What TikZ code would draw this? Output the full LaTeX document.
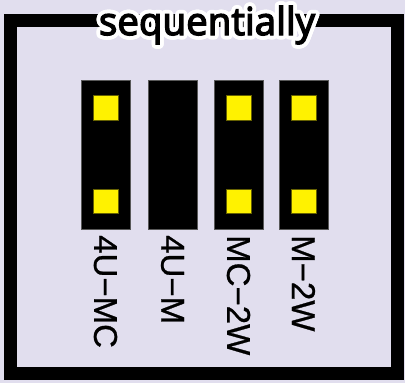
\documentclass[tikz,border=0pt]{standalone}
\usepackage{fontspec}
\usetikzlibrary{calc}
\setmainfont{Open Sans}
\newfontfamily\ttlfont[FakeBold=3.5]{Open Sans}
\newfontfamily\lblfont[FakeBold=0.8]{Liberation Sans}
\definecolor{bgc}{HTML}{E1DEEE}
\definecolor{pinc}{HTML}{FFF200}
\tikzset{
  hdr/.style={fill=black, draw=black!65, line width=0.6pt},
  pinsq/.style={fill=pinc, draw=black!60!pinc, line width=0.6pt},
  lbl/.style={font=\lblfont\fontsize{33}{33}\selectfont, rotate=-90, anchor=west, inner sep=0pt},
  ttl/.style={font=\ttlfont\fontsize{38.5}{38.5}\selectfont, inner sep=0pt, anchor=base}
}
\begin{document}
\begin{tikzpicture}[x=1pt,y=-1pt]
\fill[bgc] (0,0) rectangle (405,383);
\useasboundingbox (0,0) rectangle (405,383);
\draw[line width=13pt] (10.5,20.5) rectangle (397.5,373);
% title halo
\foreach \a in {0,15,...,345}{
  \node[ttl, text=white] at ($(207,35)+(\a:3.8)$) {sequentially};
}
\node[ttl] (title) at (207,35) {sequentially};
% headers
\foreach \n/\x in {h1/105.5,h2/172.5,h3/238.5,h4/303.5}{
  \path[hdr] (\x-24.5,80) rectangle (\x+24.5,229);
  \coordinate (\n) at (\x,235);
}
\foreach \x in {105.5,238.5,303.5}{
  \path[pinsq] (\x-12.5,95) rectangle (\x+12.5,120);
  \path[pinsq] (\x-12.5,189) rectangle (\x+12.5,213);
}
\node[lbl] (l1) at (h1) {4U−MC};
\node[lbl] (l2) at (h2) {4U−M};
\node[lbl] (l3) at (h3) {MC−2W};
\node[lbl] (l4) at (h4) {M−2W};
\end{tikzpicture}
\end{document}
